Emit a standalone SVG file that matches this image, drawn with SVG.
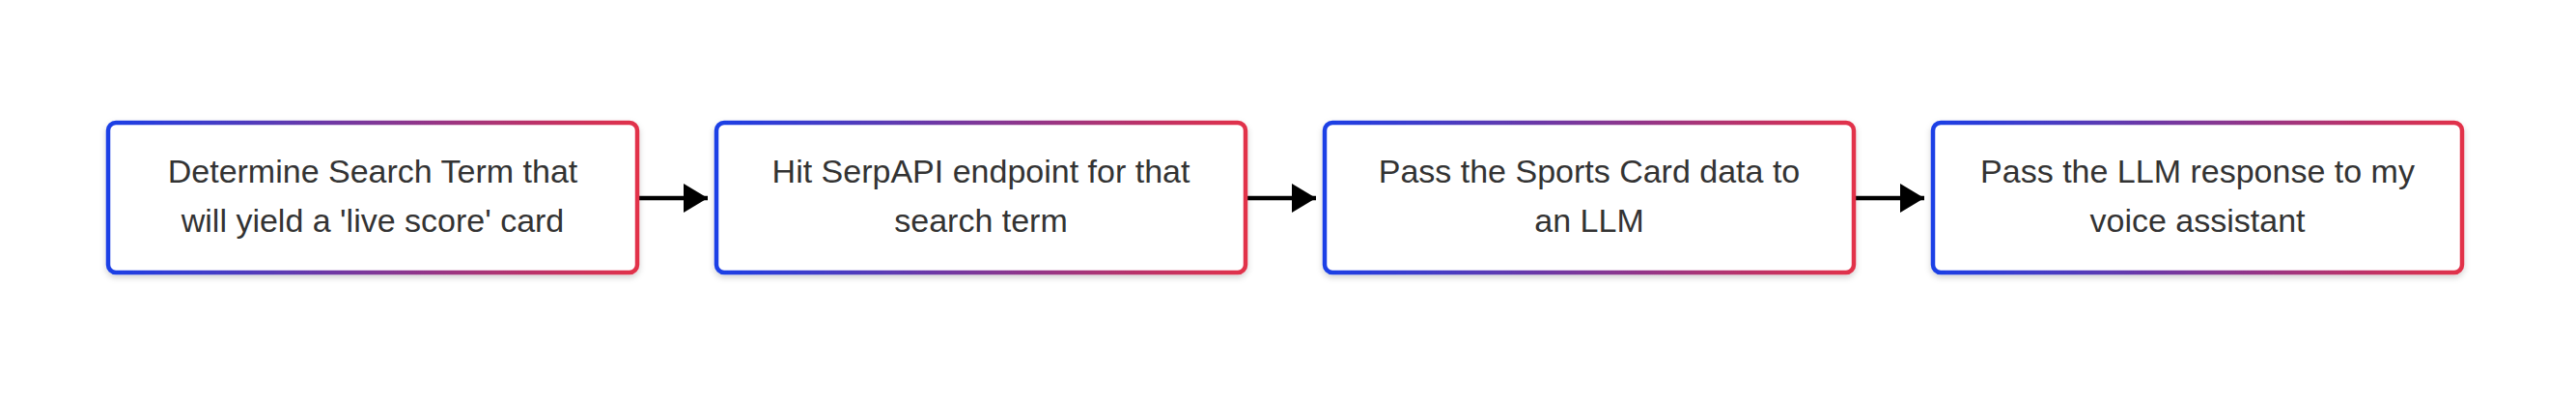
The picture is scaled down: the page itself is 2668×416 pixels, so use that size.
<svg xmlns="http://www.w3.org/2000/svg" width="2668" height="416" viewBox="0 0 2668 416">
  <defs>
    <linearGradient id="edge" x1="0" y1="0" x2="1" y2="0">
      <stop offset="0" stop-color="#1b3fe6"/>
      <stop offset="1" stop-color="#e2304a"/>
    </linearGradient>
    <filter id="shadow" x="-5%" y="-10%" width="110%" height="130%">
      <feDropShadow dx="0" dy="3" stdDeviation="3" flood-color="#000" flood-opacity="0.18"/>
    </filter>
    <marker id="arrow" markerUnits="userSpaceOnUse" markerWidth="26" markerHeight="30" refX="25" refY="15" orient="auto">
      <path d="M0,0 L25,15 L0,30 Z" fill="#000"/>
    </marker>
  </defs>
  <style>
    .box { fill: #ffffff; stroke: url(#edge); stroke-width: 4.5; filter: url(#shadow); }
    .label { font-family: "Liberation Sans", Arial, Helvetica, sans-serif; font-size: 34px; fill: #333333; text-anchor: middle; }
    .edge { stroke: #000; stroke-width: 4.5; fill: none; marker-end: url(#arrow); }
  </style>
  <rect width="2668" height="416" fill="#ffffff"/>
  <g id="connectors">
    <line class="edge" x1="660" y1="205" x2="733" y2="205"/>
    <line class="edge" x1="1290" y1="205" x2="1363" y2="205"/>
    <line class="edge" x1="1920" y1="205" x2="1993" y2="205"/>
  </g>
  <g id="node1">
    <rect class="box" x="112" y="127" width="548" height="155" rx="8"/>
    <text class="label" x="386" y="189">Determine Search Term that</text>
    <text class="label" x="386" y="240">will yield a 'live score' card</text>
  </g>
  <g id="node2">
    <rect class="box" x="742" y="127" width="548" height="155" rx="8"/>
    <text class="label" x="1016" y="189">Hit SerpAPI endpoint for that</text>
    <text class="label" x="1016" y="240">search term</text>
  </g>
  <g id="node3">
    <rect class="box" x="1372" y="127" width="548" height="155" rx="8"/>
    <text class="label" x="1646" y="189">Pass the Sports Card data to</text>
    <text class="label" x="1646" y="240">an LLM</text>
  </g>
  <g id="node4">
    <rect class="box" x="2002" y="127" width="548" height="155" rx="8"/>
    <text class="label" x="2276" y="189">Pass the LLM response to my</text>
    <text class="label" x="2276" y="240">voice assistant</text>
  </g>
</svg>
